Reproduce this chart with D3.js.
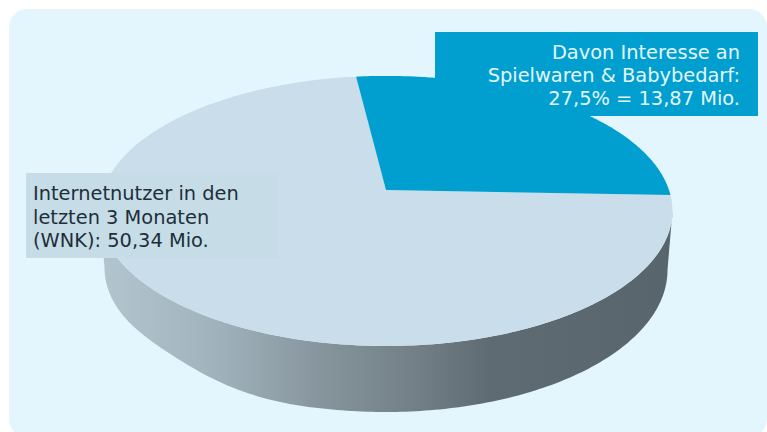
<!DOCTYPE html>
<html lang="de">
<head>
<meta charset="utf-8">
<script src="https://cdn.jsdelivr.net/npm/d3@7"></script>
<style>
  html, body { margin: 0; padding: 0; background: #fff; }
  svg { display: block; }
  text { font-family: "DejaVu Sans", Verdana, sans-serif; font-size: 19.4px; }
</style>
</head>
<body>
<svg id="chart" width="767" height="432"></svg>
<script>
// Audience shares, in millions
const categories = ["Spielwaren & Babybedarf", "Weitere Internetnutzer"];
const millions = [13.87, 36.47];
const sliceColors = ["#009fd0", "#c9deea"];

// Callout wording
const interestLines = ["Davon Interesse an", "Spielwaren & Babybedarf:", "27,5% = 13,87 Mio."];
const usersLines = ["Internetnutzer in den", "letzten 3 Monaten", "(WNK): 50,34 Mio."];

// Shading of the rim, from left to right
const rimStops = [
  [0, "#b2c5cf"], [0.17, "#a3b6c0"], [0.4, "#84929a"],
  [0.55, "#727f86"], [0.68, "#5f6b72"], [1, "#59656c"]
];

const svg = d3.select("#chart");
const TAU = Math.PI * 2;

// Tilted disc: perspective makes the near half look deeper than the far half
const cx = 386, cy = 190, radiusX = 283, radiusY = 131.8, lean = 0.155;
const startDeg = -7;

function project(angle) {
  const sx = Math.sin(angle), sy = -Math.cos(angle);
  const w = 1 / (1 - lean * sy);
  return [cx + radiusX * sx * w, cy + radiusY * sy * w];
}

// Lower edge of the rim: half an ellipse, pulled up smoothly on its left side
const baseY = 270, baseRadiusX = 281.5, baseRadiusY = 142;
const baseLift = d3.interpolateBasis([0, 0, 1, -2, -10, -3]);
function baseEdge(theta) {
  const u = Math.cos(theta);
  return [
    cx + baseRadiusX * u,
    baseY + baseRadiusY * Math.sin(theta) + (u < 0 ? baseLift(-u) : 0)
  ];
}

const line = d3.line();
const arcAngles = (a0, a1, n = 180) => d3.range(0, n + 1).map(i => a0 + (a1 - a0) * i / n);

const pie = d3.pie().sort(null)
  .startAngle(startDeg * Math.PI / 180)
  .endAngle(startDeg * Math.PI / 180 + TAU);
const slices = pie(millions);

// Panel behind the chart, bleeding off the right and bottom
svg.append("rect")
  .attr("x", 9).attr("y", 9).attr("width", 758).attr("height", 428)
  .attr("rx", 18).attr("fill", "#e3f6fe");

// Rim gradient
const defs = svg.append("defs");
const grad = defs.append("linearGradient").attr("id", "rim")
  .attr("gradientUnits", "userSpaceOnUse")
  .attr("x1", 105).attr("x2", 672).attr("y1", 0).attr("y2", 0);
rimStops.forEach(([o, c]) => grad.append("stop").attr("offset", o).attr("stop-color", c));

// Rim: widest points of the disc, round the near edge, back along the base
const widest = Math.PI - Math.acos(lean);
const rimTop = arcAngles(widest, TAU - widest).map(project);
const rimBase = arcAngles(Math.PI, 0).map(baseEdge);
svg.append("path")
  .attr("d", line(rimTop.concat(rimBase)) + "Z")
  .attr("fill", "url(#rim)");

// Top face, one wedge per share
svg.selectAll("path.slice")
  .data(slices.slice().reverse())
  .join("path")
  .attr("class", "slice")
  .attr("fill", d => sliceColors[d.index])
  .attr("d", d => line([[cx, cy]].concat(arcAngles(d.startAngle, d.endAngle).map(project))) + "Z");

// Callouts
svg.append("rect").attr("x", 26).attr("y", 173).attr("width", 253).attr("height", 85).attr("fill", "#c6dde8");
svg.append("rect").attr("x", 435).attr("y", 32).attr("width", 323).attr("height", 84).attr("fill", sliceColors[0]);

svg.selectAll("text.users").data(usersLines).join("text")
  .attr("class", "users").attr("x", 33)
  .attr("y", (d, i) => 200 + i * 23.5)
  .attr("fill", "#1e2e38")
  .text(d => d);

svg.selectAll("text.interest").data(interestLines).join("text")
  .attr("class", "interest").attr("x", 740).attr("text-anchor", "end")
  .attr("y", (d, i) => 59 + i * 23)
  .attr("fill", "#e3f6fe")
  .text(d => d);
</script>
</body>
</html>
